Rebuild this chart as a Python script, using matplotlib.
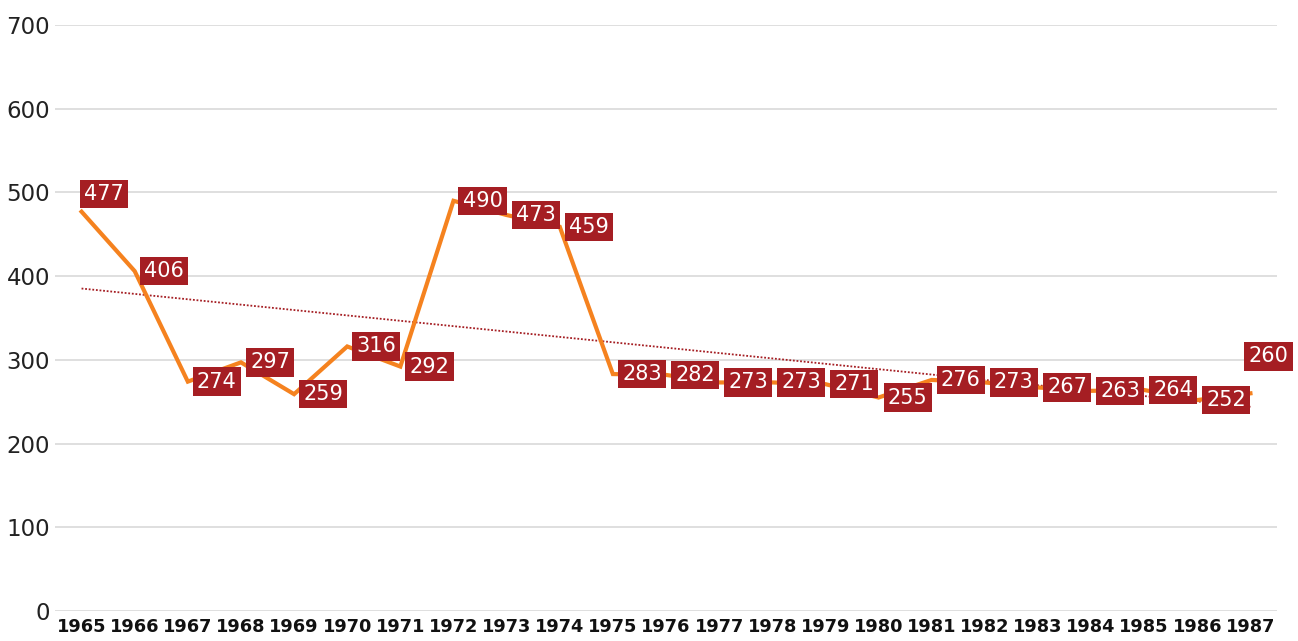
import matplotlib
matplotlib.use("Agg")
import matplotlib.pyplot as plt
import numpy as np

years = [str(y) for y in range(1965, 1988)]
values = [477, 406, 274, 297, 259, 316, 292, 490, 473, 459, 283, 282, 273,
          273, 271, 255, 276, 273, 267, 263, 264, 252, 260]
y_ticks = [0, 100, 200, 300, 400, 500, 600, 700]

LINE = "#F5821F"
BOX = "#A51E23"
GRID = "#DCDCDC"

plt.rcParams['font.family'] = ['DejaVu Sans']

fig = plt.figure(figsize=(12.98, 6.41), dpi=100)
ax = fig.add_axes([55/1298, 1-611/641, (1277-55)/1298, (611-25)/641])

x = np.arange(len(years))
ax.set_xlim(-0.5, len(years)-0.5)
ax.set_ylim(0, 700)
ax.set_yticks(y_ticks)
ax.set_yticklabels([str(v) for v in y_ticks])
ax.set_xticks(x)
ax.set_xticklabels(years, fontweight='bold')
ax.yaxis.grid(True, color=GRID, linewidth=1.3)
ax.set_axisbelow(True)
for s in ax.spines.values():
    s.set_visible(False)
ax.tick_params(axis='y', length=0, pad=3.6, labelsize=16.5, labelcolor='#222222')
ax.tick_params(axis='x', length=0, pad=5.0, labelsize=12.8, labelcolor='#111111')

# trend line
coef = np.polyfit(x, values, 1)
ax.plot(x, np.polyval(coef, x), color=BOX, linestyle=(0, (1, 1)), linewidth=1.3, zorder=2)

ax.plot(x, values, color=LINE, linewidth=3.0, solid_joinstyle='miter', zorder=3)

FS = 15
PADF = 0.2
padpx = PADF * FS * 100 / 72
# label offsets in pixels (box left edge relative to point, vertical shift)
special = {0: (-2, 18), 22: (-6, 37)}
for i, v in enumerate(values):
    dx, dy = special.get(i, (5, 0))
    ax.annotate(str(v), (x[i], v), xytext=(dx + padpx, dy), textcoords='offset pixels',
                ha='left', va='center', color='white', fontsize=FS,
                bbox=dict(boxstyle=f'square,pad={PADF}', fc=BOX, ec='none'),
                zorder=5, annotation_clip=False)

fig.savefig("out.png", dpi=100)
